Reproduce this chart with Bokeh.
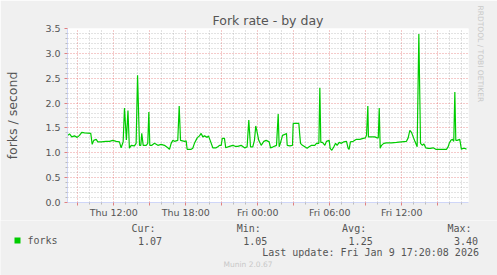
from bokeh.plotting import figure
from bokeh.layouts import column
from bokeh.models import FixedTicker, Title, ColumnDataSource
from bokeh.core.properties import value
from bokeh.embed import file_html
from bokeh.resources import INLINE

# ---- data (hours since Thu 00:00, forks/second) ----
hours = [8.17, 8.31, 8.50, 8.72, 8.95, 9.14, 9.33, 9.56, 10.08, 10.20, 10.33, 10.53,
         10.67, 10.95, 11.36, 11.64, 11.92, 12.20, 12.47, 12.61, 12.78, 12.89, 13.05,
         13.18, 13.30, 13.45, 13.72, 13.86, 13.98, 14.14, 14.25, 14.33, 14.45, 14.70,
         14.83, 14.92, 15.00, 15.17, 15.39, 15.67, 15.95, 16.22, 16.50, 16.64, 16.78,
         16.92, 17.06, 17.33, 17.45, 17.56, 17.89, 18.03, 18.11, 18.45, 18.58, 18.72,
         18.95, 19.14, 19.28, 19.42, 19.56, 19.78, 19.89, 20.06, 20.25, 20.53, 20.67,
         20.81, 20.95, 21.04, 21.22, 21.33, 21.64, 21.92, 22.11, 22.33, 22.61, 22.89,
         23.11, 23.25, 23.39, 23.58, 23.72, 23.83, 23.94, 24.08, 24.28, 24.50, 24.70,
         24.95, 25.06, 25.28, 25.56, 25.70, 25.78, 25.89, 26.06, 26.25, 26.39, 26.45,
         26.67, 26.89, 26.95, 27.42, 27.50, 27.56, 27.72, 27.92, 28.11, 28.28, 28.48,
         28.75, 28.89, 29.09, 29.17, 29.25, 29.39, 29.59, 29.72, 29.95, 30.03, 30.17,
         30.34, 30.48, 30.61, 30.78, 30.97, 31.17, 31.39, 31.53, 31.61, 31.72, 31.95,
         32.22, 32.50, 32.78, 32.97, 33.06, 33.17, 33.22, 33.47, 33.75, 33.95, 34.04,
         34.12, 34.20, 34.31, 34.50, 34.72, 35.14, 35.56, 35.97, 36.39, 36.53, 36.67,
         36.81, 36.95, 37.09, 37.28, 37.42, 37.56, 37.72, 37.83, 38.00, 38.20, 38.39,
         38.61, 38.83, 39.17, 39.72, 39.86, 39.95, 40.09, 40.22, 40.33, 40.42, 40.50,
         40.61, 40.83, 40.97, 41.11, 41.25, 41.39]
forks = [1.35, 1.38, 1.32, 1.34, 1.31, 1.35, 1.41, 1.40, 1.39, 1.17, 1.25, 1.27,
         1.22, 1.22, 1.23, 1.23, 1.25, 1.23, 1.22, 1.10, 1.22, 1.90, 1.26,
         1.85, 1.09, 1.15, 1.14, 1.19, 2.56, 1.15, 1.15, 1.39, 1.15, 1.15,
         1.19, 1.82, 1.15, 1.15, 1.19, 1.15, 1.17, 1.15, 1.10, 1.07, 1.19,
         1.25, 1.23, 1.25, 1.94, 1.25, 1.23, 1.24, 1.07, 1.07, 1.09, 1.19,
         1.30, 1.34, 1.39, 1.32, 1.34, 1.31, 1.34, 1.23, 1.10, 1.10, 1.12,
         1.15, 1.15, 1.29, 1.29, 1.10, 1.13, 1.15, 1.13, 1.13, 1.15, 1.10,
         1.12, 1.66, 1.12, 1.12, 1.25, 1.54, 1.42, 1.25, 1.15, 1.23, 1.25,
         1.22, 1.10, 1.12, 1.15, 1.78, 1.12, 1.20, 1.35, 1.37, 1.39, 1.15,
         1.14, 1.15, 1.59, 1.59, 1.35, 1.19, 1.15, 1.12, 1.09, 1.12, 1.15,
         1.15, 1.19, 1.19, 2.31, 1.21, 1.21, 1.15, 1.23, 1.25, 1.09, 1.05,
         1.12, 1.19, 1.15, 1.21, 1.19, 1.22, 1.23, 1.09, 1.07, 1.22, 1.23,
         1.27, 1.27, 1.29, 1.30, 1.35, 1.94, 1.32, 1.32, 1.32, 1.30, 1.30,
         1.90, 1.09, 1.15, 1.19, 1.20, 1.20, 1.21, 1.22, 1.23, 1.30, 1.45,
         1.41, 1.32, 1.23, 1.12, 3.39, 1.19, 1.15, 1.18, 1.10, 1.09, 1.09,
         1.10, 1.07, 1.07, 1.07, 1.12, 1.19, 1.25, 1.27, 1.23, 2.22, 1.25,
         1.25, 1.27, 1.07, 1.09, 1.09, 1.07]

tick_hours = [12, 18, 24, 30, 36]
tick_labels = ["Thu 12:00", "Thu 18:00", "Fri 00:00", "Fri 06:00", "Fri 12:00"]
y_ticks = [0.0, 0.5, 1.0, 1.5, 2.0, 2.5, 3.0, 3.5]

title_text = "Fork rate - by day"
y_label = "forks / second"
series_name = "forks"
stat_names = ["Cur:", "Min:", "Avg:", "Max:"]
stat_values = ["1.07", "1.05", "1.25", "3.40"]
last_update = "Last update: Fri Jan  9 17:20:08 2026"
footer = "Munin 2.0.67"
side_text = "RRDTOOL / TOBI OETIKER"

# ---- layout constants ----
W, H = 497, 275
MAIN_H = 220
FL, FR, FT, FB = 67, 468, 28, 203
PX_PER_H = 12.0
X12 = 113.3
x_start = 12 + (FL - X12) / PX_PER_H
x_end = 12 + (FR - X12) / PX_PER_H

TXT = "#555555"
GREEN = "#00CC00"
AXISC = "#CFD6F8"
BG = "#F0F0F0"
FAINT = "#C8C8C8"

p = figure(width=W, height=MAIN_H, x_range=(x_start, x_end), y_range=(0, 3.5),
           output_backend="svg", toolbar_location=None,
           min_border_left=FL, min_border_right=W - FR,
           min_border_top=FT, min_border_bottom=MAIN_H - FB)
p.frame_align = False
p.background_fill_color = "#FFFFFF"
p.border_fill_color = BG
p.outline_line_color = None

p.title.text = title_text
p.title.align = "center"
p.title.text_font = "DejaVu Sans"
p.title.text_font_size = "12.5px"
p.title.text_font_style = "normal"
p.title.text_color = TXT
p.title.standoff = 2

p.add_layout(Title(text=side_text, align="left", offset=-23, standoff=15,
                   text_font="DejaVu Sans", text_font_size="7.5px",
                   text_font_style="normal", text_color=FAINT), "right")

major_x = list(range(9, 42, 3))
minor_x = [h for h in range(9, 42) if h % 3 != 0]
p.xaxis.ticker = FixedTicker(ticks=major_x, minor_ticks=minor_x)
overrides = {h: "" for h in major_x}
for h, lab_ in zip(tick_hours, tick_labels):
    overrides[h] = lab_
p.xaxis.major_label_overrides = overrides

minor_y = [round(i * 0.1, 1) for i in range(1, 36) if i % 5 != 0]
p.yaxis.ticker = FixedTicker(ticks=y_ticks, minor_ticks=minor_y)
p.yaxis.major_label_overrides = {t: f"{t:.1f}" for t in y_ticks}
p.yaxis.axis_label = y_label
p.yaxis.axis_label_standoff = 22
p.yaxis.axis_label_text_font = "DejaVu Sans"
p.yaxis.axis_label_text_font_size = "12.5px"
p.yaxis.axis_label_text_font_style = "normal"
p.yaxis.axis_label_text_color = TXT

for ax in (p.xaxis[0], p.yaxis[0]):
    ax.axis_line_color = AXISC
    ax.major_label_text_font = "DejaVu Sans"
    ax.major_label_text_font_size = "9.5px"
    ax.major_label_text_color = TXT
    ax.major_tick_line_color = "#E08080"
    ax.minor_tick_line_color = "#BBBBBB"
    ax.major_tick_in = 0
    ax.minor_tick_in = 0
p.xaxis.major_tick_out = 3
p.xaxis.minor_tick_out = 2
p.xaxis.major_label_standoff = 1
p.yaxis.major_tick_out = 3
p.yaxis.minor_tick_out = 2
p.yaxis.major_label_standoff = 4

for g in (p.xgrid[0], p.ygrid[0]):
    g.grid_line_color = "#DE4F4F"
    g.grid_line_alpha = 0.6
    g.grid_line_dash = "1 2"
    g.minor_grid_line_color = "#8F8F8F"
    g.minor_grid_line_alpha = 0.5
    g.minor_grid_line_dash = "1 2"

src = ColumnDataSource(dict(h=hours, v=forks))
p.line("h", "v", source=src, line_color=GREEN, line_width=1.2)

# ---- legend strip below (pixel coordinates, y downwards) ----
LEG_H = H - MAIN_H
q = figure(width=W, height=LEG_H, x_range=(0, W), y_range=(LEG_H, 0),
           output_backend="svg", toolbar_location=None,
           x_axis_location=None, y_axis_location=None,
           min_border=0, min_border_left=0, min_border_right=0,
           min_border_top=0, min_border_bottom=0)
q.frame_align = False
q.background_fill_color = BG
q.border_fill_color = BG
q.outline_line_color = None
q.grid.visible = False

MONO = "DejaVu Sans Mono"
tx, ty, tt = [27], [240 - MAIN_H], [series_name]
for i, (n, v) in enumerate(zip(stat_names, stat_values)):
    x0 = 131 + i * 105.3
    tx += [x0, x0 + 6.5]
    ty += [228 - MAIN_H, 240 - MAIN_H]
    tt += [n, v]
tx.append(261.7)
ty.append(252 - MAIN_H)
tt.append(last_update)
q.text(x=tx, y=ty, text=tt, text_font=value(MONO), text_font_size="10px",
       text_color=TXT, text_baseline="middle", text_align="left")
q.text(x=[223], y=[264 - MAIN_H], text=[footer], text_font=value("DejaVu Sans"),
       text_font_size="7.5px", text_color=FAINT, text_baseline="middle",
       text_align="left")
q.quad(left=[14], right=[20], top=[237 - MAIN_H], bottom=[243 - MAIN_H],
       fill_color=GREEN, line_color=None)

layout = column(p, q, spacing=0)
open("out.html", "w").write(file_html(layout, INLINE))
